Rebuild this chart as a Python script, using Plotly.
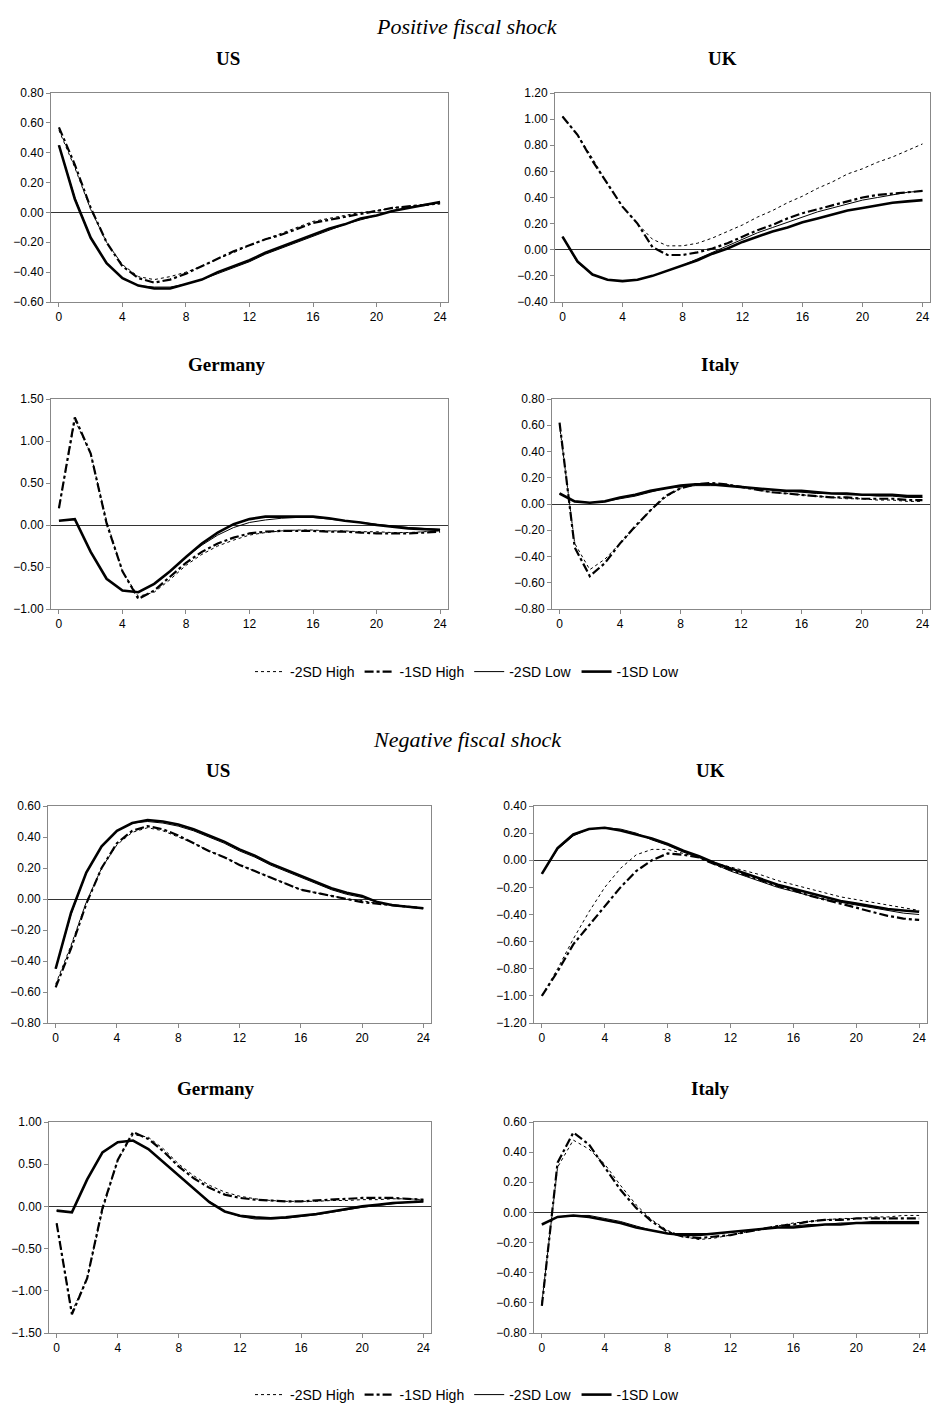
import plotly.graph_objects as go

W, H = 935, 1406
x = list(range(25))
series_names = ["-2SD High", "-1SD High", "-2SD Low", "-1SD Low"]

pos_us = [
 [0.55,0.30,0.02,-0.20,-0.35,-0.43,-0.45,-0.43,-0.40,-0.36,-0.31,-0.27,-0.22,-0.18,-0.14,-0.10,-0.06,-0.04,-0.02,0.00,0.01,0.03,0.04,0.05,0.06],
 [0.57,0.32,0.03,-0.20,-0.36,-0.44,-0.47,-0.45,-0.41,-0.36,-0.31,-0.26,-0.22,-0.18,-0.15,-0.11,-0.07,-0.05,-0.03,-0.01,0.01,0.03,0.04,0.05,0.06],
 [0.45,0.10,-0.17,-0.34,-0.44,-0.49,-0.50,-0.50,-0.48,-0.45,-0.41,-0.37,-0.33,-0.28,-0.24,-0.20,-0.16,-0.12,-0.08,-0.05,-0.02,0.01,0.03,0.05,0.07],
 [0.45,0.09,-0.17,-0.34,-0.44,-0.49,-0.51,-0.51,-0.48,-0.45,-0.40,-0.36,-0.32,-0.27,-0.23,-0.19,-0.15,-0.11,-0.08,-0.04,-0.02,0.01,0.03,0.05,0.07]]
pos_uk = [
 [1.02,0.88,0.70,0.50,0.33,0.20,0.08,0.03,0.03,0.05,0.09,0.14,0.19,0.25,0.30,0.36,0.41,0.47,0.52,0.58,0.62,0.67,0.71,0.76,0.81],
 [1.02,0.88,0.68,0.50,0.33,0.20,0.02,-0.04,-0.04,-0.02,0.01,0.05,0.10,0.15,0.19,0.24,0.28,0.31,0.34,0.37,0.40,0.42,0.43,0.44,0.45],
 [0.10,-0.10,-0.19,-0.23,-0.24,-0.23,-0.20,-0.16,-0.12,-0.07,-0.02,0.03,0.08,0.13,0.17,0.21,0.25,0.29,0.32,0.35,0.38,0.40,0.42,0.44,0.45],
 [0.10,-0.09,-0.19,-0.23,-0.24,-0.23,-0.20,-0.16,-0.12,-0.08,-0.03,0.01,0.06,0.10,0.14,0.17,0.21,0.24,0.27,0.30,0.32,0.34,0.36,0.37,0.38]]
pos_de = [
 [0.20,1.25,0.85,0.05,-0.55,-0.85,-0.80,-0.65,-0.48,-0.35,-0.25,-0.18,-0.12,-0.09,-0.07,-0.06,-0.06,-0.07,-0.07,-0.08,-0.08,-0.09,-0.09,-0.08,-0.07],
 [0.20,1.28,0.85,0.02,-0.55,-0.88,-0.78,-0.62,-0.45,-0.32,-0.22,-0.15,-0.10,-0.08,-0.07,-0.07,-0.07,-0.08,-0.08,-0.09,-0.10,-0.10,-0.10,-0.09,-0.08],
 [0.05,0.07,-0.32,-0.64,-0.78,-0.80,-0.70,-0.55,-0.38,-0.24,-0.12,-0.03,0.03,0.06,0.08,0.09,0.09,0.07,0.05,0.03,0.01,-0.01,-0.03,-0.04,-0.05],
 [0.05,0.07,-0.32,-0.64,-0.78,-0.80,-0.70,-0.55,-0.38,-0.22,-0.09,0.01,0.07,0.10,0.10,0.10,0.10,0.08,0.05,0.03,0.00,-0.02,-0.04,-0.05,-0.06]]
pos_it = [
 [0.60,-0.30,-0.50,-0.42,-0.30,-0.18,-0.05,0.05,0.12,0.15,0.15,0.15,0.13,0.11,0.09,0.08,0.07,0.06,0.05,0.04,0.04,0.03,0.03,0.02,0.02],
 [0.62,-0.33,-0.55,-0.45,-0.30,-0.17,-0.05,0.06,0.12,0.15,0.16,0.15,0.13,0.11,0.09,0.08,0.07,0.06,0.05,0.05,0.04,0.04,0.04,0.03,0.03],
 [0.08,0.02,0.01,0.02,0.04,0.06,0.09,0.12,0.13,0.14,0.14,0.14,0.13,0.12,0.11,0.10,0.09,0.08,0.08,0.07,0.07,0.06,0.06,0.05,0.05],
 [0.08,0.02,0.01,0.02,0.05,0.07,0.10,0.12,0.14,0.15,0.15,0.14,0.13,0.12,0.11,0.10,0.10,0.09,0.08,0.08,0.07,0.07,0.07,0.06,0.06]]
neg_us = [
 [-0.55,-0.30,-0.02,0.20,0.35,0.43,0.46,0.44,0.40,0.36,0.31,0.27,0.22,0.18,0.14,0.10,0.06,0.04,0.02,0.00,-0.01,-0.03,-0.04,-0.05,-0.06],
 [-0.57,-0.32,-0.03,0.20,0.36,0.44,0.47,0.45,0.41,0.36,0.31,0.27,0.22,0.18,0.14,0.10,0.06,0.04,0.02,0.00,-0.02,-0.03,-0.04,-0.05,-0.06],
 [-0.45,-0.10,0.17,0.34,0.44,0.49,0.50,0.49,0.47,0.44,0.40,0.36,0.31,0.27,0.22,0.18,0.14,0.10,0.06,0.03,0.01,-0.02,-0.04,-0.05,-0.06],
 [-0.45,-0.09,0.17,0.34,0.44,0.49,0.51,0.50,0.48,0.45,0.41,0.37,0.32,0.28,0.23,0.19,0.15,0.11,0.07,0.04,0.02,-0.02,-0.04,-0.05,-0.06]]
neg_uk = [
 [-1.00,-0.80,-0.58,-0.38,-0.20,-0.06,0.04,0.08,0.08,0.05,0.02,-0.02,-0.05,-0.08,-0.11,-0.15,-0.18,-0.21,-0.24,-0.27,-0.29,-0.31,-0.33,-0.35,-0.37],
 [-1.00,-0.82,-0.62,-0.48,-0.34,-0.20,-0.08,0.00,0.05,0.04,0.02,-0.03,-0.07,-0.11,-0.15,-0.19,-0.22,-0.26,-0.29,-0.32,-0.35,-0.38,-0.41,-0.43,-0.44],
 [-0.10,0.08,0.18,0.23,0.24,0.23,0.20,0.15,0.11,0.06,0.02,-0.03,-0.08,-0.12,-0.16,-0.20,-0.23,-0.26,-0.29,-0.31,-0.33,-0.35,-0.37,-0.39,-0.40],
 [-0.10,0.09,0.19,0.23,0.24,0.22,0.19,0.16,0.12,0.07,0.03,-0.02,-0.06,-0.10,-0.14,-0.18,-0.21,-0.24,-0.27,-0.30,-0.32,-0.34,-0.36,-0.37,-0.38]]
neg_de = [
 [-0.20,-1.25,-0.85,-0.05,0.55,0.85,0.82,0.68,0.50,0.36,0.25,0.17,0.12,0.09,0.07,0.06,0.06,0.06,0.07,0.07,0.08,0.08,0.09,0.09,0.08],
 [-0.20,-1.28,-0.85,-0.02,0.55,0.88,0.80,0.65,0.47,0.33,0.22,0.14,0.10,0.08,0.07,0.06,0.06,0.07,0.08,0.09,0.10,0.10,0.10,0.09,0.08],
 [-0.05,-0.07,0.32,0.64,0.76,0.78,0.68,0.52,0.36,0.20,0.06,-0.06,-0.12,-0.15,-0.15,-0.14,-0.12,-0.10,-0.07,-0.04,-0.01,0.01,0.03,0.05,0.06],
 [-0.05,-0.07,0.32,0.64,0.76,0.78,0.68,0.52,0.36,0.20,0.05,-0.06,-0.11,-0.13,-0.14,-0.13,-0.11,-0.09,-0.06,-0.03,0.00,0.02,0.04,0.05,0.06]]
neg_it = [
 [-0.60,0.30,0.48,0.42,0.32,0.18,0.05,-0.05,-0.12,-0.16,-0.18,-0.17,-0.15,-0.13,-0.11,-0.09,-0.07,-0.06,-0.05,-0.04,-0.04,-0.03,-0.03,-0.02,-0.02],
 [-0.62,0.33,0.53,0.45,0.30,0.15,0.03,-0.06,-0.13,-0.16,-0.17,-0.16,-0.15,-0.13,-0.11,-0.09,-0.08,-0.06,-0.05,-0.05,-0.04,-0.04,-0.04,-0.04,-0.04],
 [-0.08,-0.03,-0.02,-0.02,-0.04,-0.06,-0.09,-0.12,-0.14,-0.14,-0.14,-0.14,-0.13,-0.12,-0.11,-0.10,-0.09,-0.08,-0.08,-0.07,-0.07,-0.06,-0.06,-0.06,-0.06],
 [-0.08,-0.03,-0.02,-0.03,-0.05,-0.07,-0.10,-0.12,-0.14,-0.15,-0.15,-0.14,-0.13,-0.12,-0.11,-0.10,-0.10,-0.09,-0.08,-0.08,-0.07,-0.07,-0.07,-0.07,-0.07]]

styles = [dict(dash="dot", width=1), dict(dash="dashdot", width=2.2),
          dict(dash="solid", width=1), dict(dash="solid", width=2.6)]

panels = [
 (pos_us, [-0.6, 0.8], 0.2, (51, 448, 93, 302), "legend"),
 (pos_uk, [-0.4, 1.2], 0.2, (555, 930, 93, 302), "legend"),
 (pos_de, [-1.0, 1.5], 0.5, (51, 448, 399, 609), "legend"),
 (pos_it, [-0.8, 0.8], 0.2, (552, 930, 399, 609), "legend"),
 (neg_us, [-0.8, 0.6], 0.2, (48, 431, 806, 1023), "legend2"),
 (neg_uk, [-1.2, 0.4], 0.2, (534, 927, 806, 1023), "legend2"),
 (neg_de, [-1.5, 1.0], 0.5, (49, 431, 1122, 1333), "legend2"),
 (neg_it, [-0.8, 0.6], 0.2, (534, 927, 1122, 1333), "legend2"),
]

fig = go.Figure()
for i, (data, yr, dt, (x0, x1, yt, yb), lg) in enumerate(panels):
    n = "" if i == 0 else str(i + 1)
    for j, ys in enumerate(data):
        fig.add_trace(go.Scatter(x=x, y=ys, mode="lines", name=series_names[j],
                                 line=dict(color="black", **styles[j]),
                                 xaxis="x" + n, yaxis="y" + n, legend=lg,
                                 showlegend=(i in (0, 4))))
    fig.update_layout(**{
        "xaxis" + n: dict(domain=[x0 / W, x1 / W], anchor="y" + n, range=[-0.5, 24.5],
                          tickvals=[0, 4, 8, 12, 16, 20, 24], showgrid=False, zeroline=False,
                          showline=True, linecolor="#888", mirror=True,
                          ticks="outside", ticklen=4, tickcolor="#888"),
        "yaxis" + n: dict(domain=[1 - yb / H, 1 - yt / H], anchor="x" + n, range=yr,
                          dtick=dt, tickformat=".2f", showgrid=False,
                          zeroline=True, zerolinecolor="#333", zerolinewidth=1,
                          showline=True, linecolor="#888", mirror=True,
                          ticks="outside", ticklen=4, tickcolor="#888"),
    })

ann = []
def t(txt, xp, yp, size, bold=False, italic=False):
    s = txt
    if bold: s = "<b>" + s + "</b>"
    if italic: s = "<i>" + s + "</i>"
    ann.append(dict(text=s, x=xp / W, y=1 - yp / H, xref="paper", yref="paper",
                    xanchor="center", yanchor="middle", showarrow=False,
                    font=dict(family="Liberation Serif", size=size, color="black")))
t("Positive fiscal shock", 467, 27, 22, italic=True)
t("US", 228, 58, 19, bold=True); t("UK", 722, 58, 19, bold=True)
t("Germany", 227, 365, 19, bold=True); t("Italy", 720, 365, 19, bold=True)
t("Negative fiscal shock", 467, 739, 22, italic=True)
t("US", 218, 770, 19, bold=True); t("UK", 710, 770, 19, bold=True)
t("Germany", 216, 1088, 19, bold=True); t("Italy", 710, 1088, 19, bold=True)

leg = dict(orientation="h", xanchor="center", x=467 / W, yanchor="middle",
           font=dict(family="Liberation Sans", size=14, color="black"),
           bgcolor="rgba(0,0,0,0)", itemwidth=30, tracegroupgap=0)
fig.update_layout(
    width=W, height=H, margin=dict(l=0, r=0, t=0, b=0, autoexpand=False),
    paper_bgcolor="white", plot_bgcolor="white",
    font=dict(family="Liberation Sans", size=12, color="black"),
    annotations=ann,
    legend=dict(leg, y=1 - 672 / H),
    legend2=dict(leg, y=1 - 1395 / H),
)
fig.write_html("out.html", config={"displayModeBar": False},
               post_script="document.body.style.margin='0';document.body.style.overflow='hidden';")
